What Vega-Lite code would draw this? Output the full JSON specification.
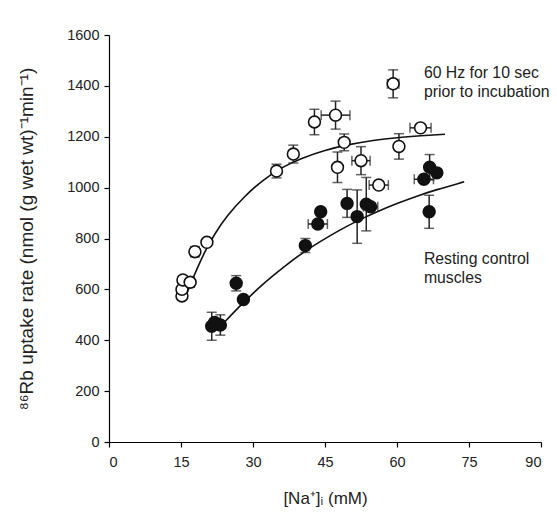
{
  "$schema": "https://vega.github.io/schema/vega-lite/v6.json",
  "autosize": "none",
  "width": 432,
  "height": 407,
  "padding": {"left": 109, "top": 35, "right": 16, "bottom": 77},
  "background": "white",
  "config": {
    "view": {"stroke": null},
    "font": "Liberation Sans",
    "axis": {"grid": false, "domainColor": "black", "tickColor": "black", "labelColor": "#222", "titleColor": "#222", "labelFont": "Liberation Sans", "titleFont": "Liberation Sans", "labelFontSize": 14.5, "titleFontSize": 17, "titleFontWeight": "normal", "tickSize": 5, "domainWidth": 1.2, "tickWidth": 1.2, "format": "d"}
  },
  "datasets": {
    "pts": [
      {"group": "stim", "x": 15.2, "y": 574, "ylo": 562, "yhi": 586},
      {"group": "stim", "x": 15.2, "y": 600},
      {"group": "stim", "x": 15.4, "y": 637},
      {"group": "stim", "x": 16.9, "y": 628, "ylo": 608, "yhi": 648},
      {"group": "stim", "x": 17.9, "y": 748, "ylo": 728, "yhi": 768},
      {"group": "stim", "x": 20.4, "y": 785, "ylo": 773, "yhi": 797},
      {"group": "stim", "x": 34.9, "y": 1065, "ylo": 1038, "yhi": 1092},
      {"group": "stim", "x": 38.4, "y": 1132, "ylo": 1097, "yhi": 1167},
      {"group": "stim", "x": 42.8, "y": 1258, "ylo": 1208, "yhi": 1308},
      {"group": "stim", "x": 47.2, "y": 1285, "ylo": 1230, "yhi": 1340, "xlo": 44.2, "xhi": 50.2},
      {"group": "stim", "x": 47.6, "y": 1080, "ylo": 1020, "yhi": 1140},
      {"group": "stim", "x": 49.0, "y": 1178, "ylo": 1145, "yhi": 1211},
      {"group": "stim", "x": 52.5, "y": 1106, "ylo": 1051, "yhi": 1161, "xlo": 50.6, "xhi": 54.4},
      {"group": "stim", "x": 56.2, "y": 1010, "xlo": 54.2, "xhi": 58.2},
      {"group": "stim", "x": 59.2, "y": 1408, "ylo": 1353, "yhi": 1463, "xlo": 58.0, "xhi": 60.4},
      {"group": "stim", "x": 60.4, "y": 1162, "ylo": 1112, "yhi": 1212},
      {"group": "stim", "x": 64.9, "y": 1235, "xlo": 62.7, "xhi": 67.1},
      {"group": "rest", "x": 21.4, "y": 455, "ylo": 400, "yhi": 510},
      {"group": "rest", "x": 22.0, "y": 470},
      {"group": "rest", "x": 23.2, "y": 460, "ylo": 420, "yhi": 500},
      {"group": "rest", "x": 26.5, "y": 624, "ylo": 594, "yhi": 654},
      {"group": "rest", "x": 28.0, "y": 560},
      {"group": "rest", "x": 40.9, "y": 772, "ylo": 745, "yhi": 800},
      {"group": "rest", "x": 43.5, "y": 857, "xlo": 41.5, "xhi": 45.5},
      {"group": "rest", "x": 44.1, "y": 905},
      {"group": "rest", "x": 49.6, "y": 938, "ylo": 883, "yhi": 993},
      {"group": "rest", "x": 51.7, "y": 886, "ylo": 781, "yhi": 991},
      {"group": "rest", "x": 53.6, "y": 935, "ylo": 830, "yhi": 1040},
      {"group": "rest", "x": 54.5, "y": 925, "xlo": 53.0, "xhi": 56.0},
      {"group": "rest", "x": 65.6, "y": 1033, "xlo": 63.6, "xhi": 67.6},
      {"group": "rest", "x": 66.8, "y": 1080, "ylo": 1030, "yhi": 1130},
      {"group": "rest", "x": 68.3, "y": 1058},
      {"group": "rest", "x": 66.7, "y": 905, "ylo": 840, "yhi": 970}
    ],
    "curves": [
      {"curve": "stim", "x": 15.6, "y": 555},
      {"curve": "stim", "x": 17, "y": 622},
      {"curve": "stim", "x": 18.5, "y": 688},
      {"curve": "stim", "x": 20, "y": 750},
      {"curve": "stim", "x": 22, "y": 818},
      {"curve": "stim", "x": 24.6, "y": 890},
      {"curve": "stim", "x": 28, "y": 962},
      {"curve": "stim", "x": 32, "y": 1030},
      {"curve": "stim", "x": 36, "y": 1080},
      {"curve": "stim", "x": 40, "y": 1115},
      {"curve": "stim", "x": 45, "y": 1148},
      {"curve": "stim", "x": 50, "y": 1170},
      {"curve": "stim", "x": 55, "y": 1186},
      {"curve": "stim", "x": 60, "y": 1197},
      {"curve": "stim", "x": 65, "y": 1204},
      {"curve": "stim", "x": 70, "y": 1210},
      {"curve": "rest", "x": 24, "y": 470},
      {"curve": "rest", "x": 26, "y": 510},
      {"curve": "rest", "x": 28, "y": 548},
      {"curve": "rest", "x": 31, "y": 603},
      {"curve": "rest", "x": 34, "y": 652},
      {"curve": "rest", "x": 37, "y": 697},
      {"curve": "rest", "x": 40, "y": 740},
      {"curve": "rest", "x": 44, "y": 788},
      {"curve": "rest", "x": 48, "y": 833},
      {"curve": "rest", "x": 52, "y": 872},
      {"curve": "rest", "x": 56, "y": 907},
      {"curve": "rest", "x": 60, "y": 938},
      {"curve": "rest", "x": 64, "y": 966},
      {"curve": "rest", "x": 68, "y": 991},
      {"curve": "rest", "x": 74, "y": 1023}
    ],
    "notes": [{"a": 1}]
  },
  "layer": [
    {
      "data": {"name": "curves"},
      "mark": {"type": "line", "color": "#111", "strokeWidth": 1.6, "interpolate": "basis"},
      "encoding": {
        "x": {"field": "x", "type": "quantitative", "scale": {"domain": [0, 90], "nice": false}, "axis": {"values": [0, 15, 30, 45, 60, 75, 90], "title": "[Na⁺]ᵢ (mM)", "titlePadding": 22, "labelPadding": 8}},
        "y": {"field": "y", "type": "quantitative", "scale": {"domain": [0, 1600], "nice": false}, "axis": {"values": [0, 200, 400, 600, 800, 1000, 1200, 1400, 1600], "title": "⁸⁶Rb uptake rate (nmol (g wet wt)⁻¹min⁻¹)", "titlePadding": 30, "titleFontSize": 19, "labelPadding": 5}},
        "detail": {"field": "curve"}
      }
    },
    {
      "data": {"name": "pts"},
      "transform": [{"filter": "datum.ylo != null"}],
      "mark": {"type": "rule", "color": "#222", "strokeWidth": 1.5},
      "encoding": {"x": {"field": "x", "type": "quantitative"}, "y": {"field": "ylo", "type": "quantitative"}, "y2": {"field": "yhi"}}
    },
    {
      "data": {"name": "pts"},
      "transform": [{"filter": "datum.ylo != null"}],
      "mark": {"type": "tick", "orient": "horizontal", "color": "#222", "size": 10, "thickness": 1.5},
      "encoding": {"x": {"field": "x", "type": "quantitative"}, "y": {"field": "ylo", "type": "quantitative"}}
    },
    {
      "data": {"name": "pts"},
      "transform": [{"filter": "datum.ylo != null"}],
      "mark": {"type": "tick", "orient": "horizontal", "color": "#222", "size": 10, "thickness": 1.5},
      "encoding": {"x": {"field": "x", "type": "quantitative"}, "y": {"field": "yhi", "type": "quantitative"}}
    },
    {
      "data": {"name": "pts"},
      "transform": [{"filter": "datum.xlo != null"}],
      "mark": {"type": "rule", "color": "#222", "strokeWidth": 1.5},
      "encoding": {"y": {"field": "y", "type": "quantitative"}, "x": {"field": "xlo", "type": "quantitative"}, "x2": {"field": "xhi"}}
    },
    {
      "data": {"name": "pts"},
      "transform": [{"filter": "datum.xlo != null"}],
      "mark": {"type": "tick", "orient": "vertical", "color": "#222", "size": 10, "thickness": 1.5},
      "encoding": {"y": {"field": "y", "type": "quantitative"}, "x": {"field": "xlo", "type": "quantitative"}}
    },
    {
      "data": {"name": "pts"},
      "transform": [{"filter": "datum.xlo != null"}],
      "mark": {"type": "tick", "orient": "vertical", "color": "#222", "size": 10, "thickness": 1.5},
      "encoding": {"y": {"field": "y", "type": "quantitative"}, "x": {"field": "xhi", "type": "quantitative"}}
    },
    {
      "data": {"name": "pts"},
      "mark": {"type": "point", "shape": "circle", "filled": false, "size": 140, "stroke": "#111", "strokeWidth": 1.6, "opacity": 1},
      "encoding": {
        "x": {"field": "x", "type": "quantitative"},
        "y": {"field": "y", "type": "quantitative"},
        "fill": {"field": "group", "type": "nominal", "scale": {"domain": ["stim", "rest"], "range": ["white", "#111"]}, "legend": null}
      }
    },
    {
      "data": {"name": "notes"},
      "mark": {"type": "text", "text": ["60 Hz for 10 sec", "prior to incubation"], "align": "left", "baseline": "middle", "fontSize": 15.8, "lineHeight": 19, "color": "#222", "font": "Liberation Sans"},
      "encoding": {"x": {"datum": 65.6}, "y": {"datum": 1452}}
    },
    {
      "data": {"name": "notes"},
      "mark": {"type": "text", "text": ["Resting control", "muscles"], "align": "left", "baseline": "middle", "fontSize": 15.8, "lineHeight": 19, "color": "#222", "font": "Liberation Sans"},
      "encoding": {"x": {"datum": 65.6}, "y": {"datum": 720}}
    }
  ]
}
